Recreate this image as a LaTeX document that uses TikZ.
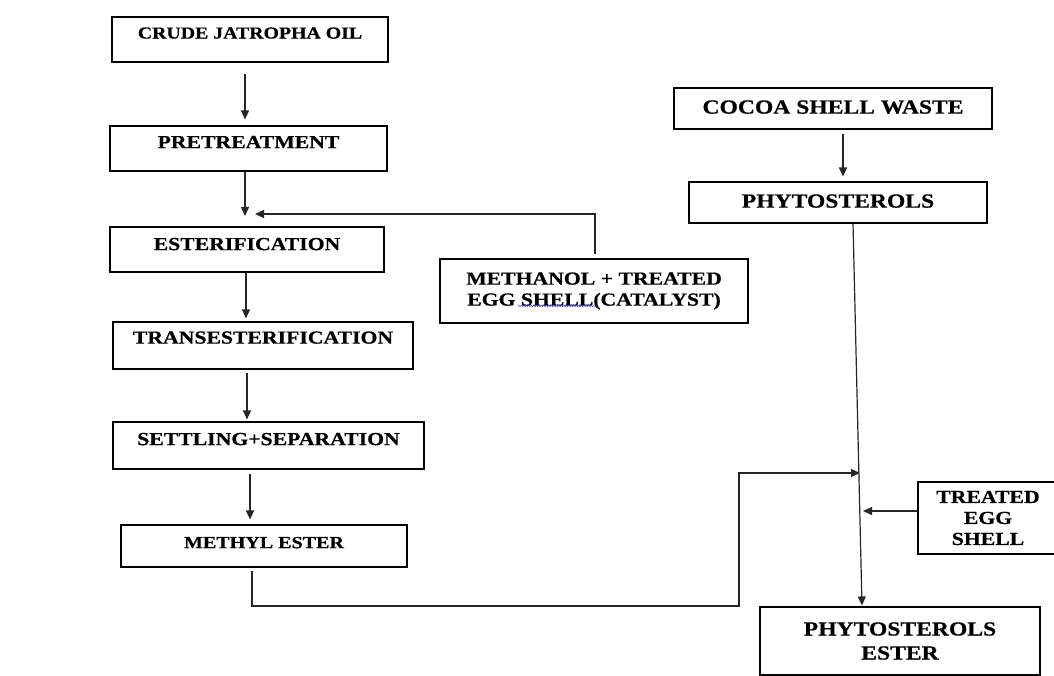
\documentclass[tikz,border=0pt]{standalone}
\usepackage{fontspec}
\setmainfont{Liberation Serif}[FakeStretch=1.18, BoldFeatures={FakeBold=0.6}]
\usetikzlibrary{arrows.meta,calc,decorations.pathmorphing}
\newcommand\fontCrude{\fontsize{16.8pt}{20pt}\selectfont\bfseries}
\newcommand\fontLeft{\fontsize{18.4pt}{21pt}\selectfont\bfseries}
\newcommand\fontMeth{\fontsize{18.4pt}{21pt}\selectfont\bfseries}
\newcommand\fontRight{\fontsize{20pt}{24pt}\selectfont\bfseries}
\begin{document}
\begin{tikzpicture}[x=1pt,y=-1pt,
  box/.style={draw=black, line width=1.1pt, inner sep=0pt},
  lbox/.style={box, font=\fontLeft, text height=12.2pt},
  rbox/.style={box, font=\fontRight, text height=13.2pt},
  ln/.style={draw=black!85, line width=1.2pt},
  arr/.style={ln, -{Triangle[length=9pt,width=8pt]}},
]
\useasboundingbox (0,0) rectangle (1054,676);
\clip (0,0) rectangle (1054,676);

% left column
\node[box, font=\fontCrude, text height=11.1pt, text depth=13pt,
      minimum width=276pt, minimum height=45pt] (crude) at (250,39.5) {CRUDE JATROPHA OIL};
\node[lbox, text depth=13pt, minimum width=277pt, minimum height=45pt] (pre) at (248.5,148.5) {PRETREATMENT};
\node[lbox, text depth=11pt, minimum width=274pt, minimum height=45pt] (est) at (247,249.5) {ESTERIFICATION};
\node[lbox, text depth=16pt, minimum width=300pt, minimum height=47pt] (trans) at (263,345.5) {TRANSESTERIFICATION};
\node[lbox, text depth=13pt, minimum width=311pt, minimum height=47pt] (settle) at (268.5,445.5) {SETTLING+SEPARATION};
\node[lbox, font=\fontsize{17pt}{20pt}\selectfont\bfseries, text height=11.3pt, text depth=7pt,
      minimum width=286pt, minimum height=42pt] (methyl) at (264,546) {METHYL ESTER};

% middle
\node[box, font=\fontMeth, align=center, minimum width=308pt, minimum height=64pt] (meth) at (594,291)
  {METHANOL + TREATED\\EGG SHELL(CATALYST)};

% right column
\node[rbox, text depth=3pt, minimum width=318pt, minimum height=41pt] (cocoa) at (833,108.5) {COCOA SHELL WASTE};
\node[rbox, text depth=3pt, minimum width=298pt, minimum height=41pt] (phyto) at (838,202.5) {PHYTOSTEROLS};
\node[box, font=\fontMeth, align=center, minimum width=140pt, minimum height=72pt] (egg) at (988,518)
  {TREATED\\EGG\\SHELL};
\node[box, font=\fontRight, align=center, minimum width=280pt, minimum height=68pt] (ester) at (900,641)
  {PHYTOSTEROLS\\ESTER};

% helper coordinates
\coordinate (xa) at (245,0);
\coordinate (j1) at (245,216);
\coordinate (mx) at (595,0);
\coordinate (j2) at (255,214);
\coordinate (xb) at (246,0);
\coordinate (xc) at (247,0);
\coordinate (xd) at (250,0);
\coordinate (xe) at (252,0);
\coordinate (b1) at (739,606);
\coordinate (j3) at (860,473);
\coordinate (xf) at (843,0);
\coordinate (p1) at (853,0);
\coordinate (p2) at (862,0);
\coordinate (ey) at (0,511);
\coordinate (j4) at (863,511);

% connectors
\draw[arr, shorten <=11pt, shorten >=6pt] (crude.south -| xa) -- (pre.north -| xa);
\draw[arr] (pre.south -| j1) -- (j1);
\draw[arr, shorten <=4pt] (meth.north -| mx) |- (j2);
\draw[arr, shorten >=3pt] (est.south -| xb) -- (trans.north -| xb);
\draw[arr, shorten <=3pt, shorten >=2pt] (trans.south -| xc) -- (settle.north -| xc);
\draw[arr, shorten <=4pt, shorten >=5pt] (settle.south -| xd) -- (methyl.north -| xd);
\draw[arr, shorten <=3pt] (methyl.south -| xe) |- (b1) |- (j3);
\draw[arr, shorten <=4pt, shorten >=5pt] (cocoa.south -| xf) -- (phyto.north -| xf);
\draw[arr, shorten >=1pt] (phyto.south -| p1) -- (ester.north -| p2);
\draw[arr] (egg.west |- ey) -- (j4);

% spell-check underline
\draw[blue!70, line width=0.5pt, decorate, decoration={snake, amplitude=0.7pt, segment length=2.5pt}]
  (518,306) -- (597,306);
\end{tikzpicture}
\end{document}
